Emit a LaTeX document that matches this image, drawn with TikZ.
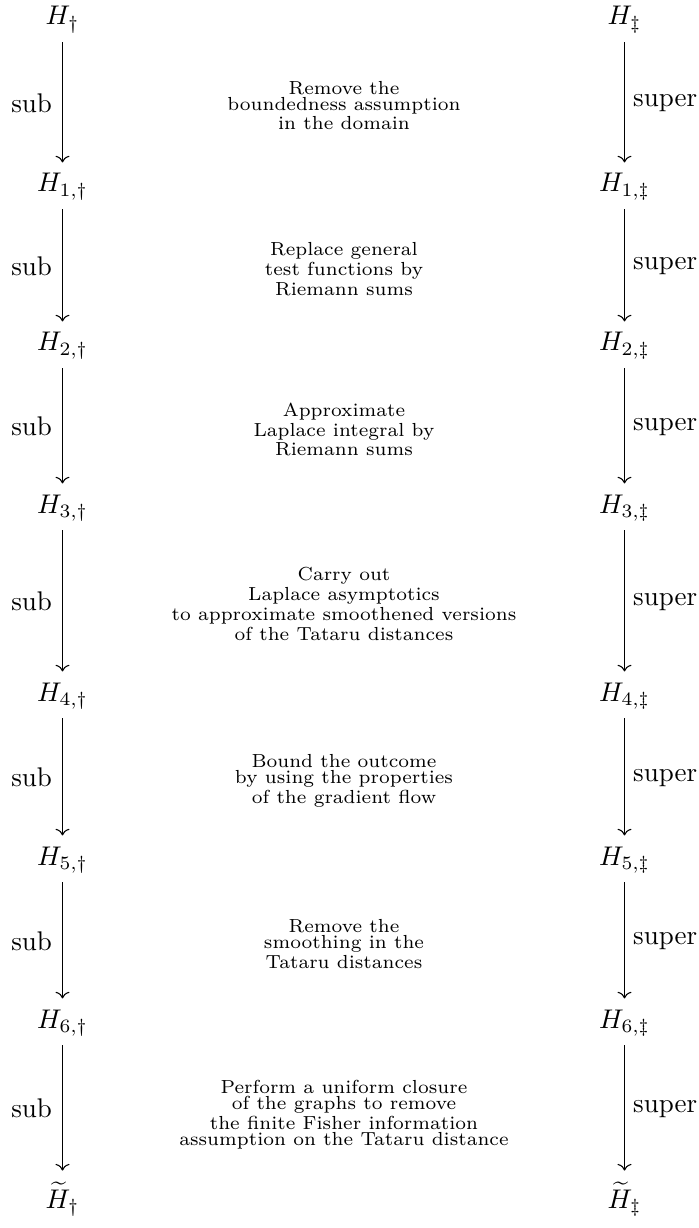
\documentclass[tikz,border=0pt]{standalone}
\usepackage{amsmath}
\usetikzlibrary{arrows.meta}
\begin{document}
\begin{tikzpicture}[x=0.37037pt,y=-0.37037pt,
  obj/.style={anchor=base, inner xsep=2pt, inner ysep=3.4pt},
  desc/.style={inner sep=0pt},
  arr/.style={-{Computer Modern Rightarrow}, thin, shorten >=0.5pt},
  lab/.style={inner sep=0pt}]
\useasboundingbox (0,0) rectangle (698,1228);
% left column
\node[obj] (L0) at (62.5,25)   {$H_{\dagger}$};
\node[obj] (L1) at (62.5,192)  {$H_{1,\dagger}$};
\node[obj] (L2) at (62.5,351)  {$H_{2,\dagger}$};
\node[obj] (L3) at (62.5,513)  {$H_{3,\dagger}$};
\node[obj] (L4) at (62.5,701)  {$H_{4,\dagger}$};
\node[obj] (L5) at (62.5,865)  {$H_{5,\dagger}$};
\node[obj] (L6) at (62.5,1028) {$H_{6,\dagger}$};
\node[obj] (L7) at (62.5,1208) {$\widetilde{H}_{\dagger}$};
% right column
\node[obj] (R0) at (624.5,25)   {$H_{\ddagger}$};
\node[obj] (R1) at (624.5,192)  {$H_{1,\ddagger}$};
\node[obj] (R2) at (624.5,351)  {$H_{2,\ddagger}$};
\node[obj] (R3) at (624.5,513)  {$H_{3,\ddagger}$};
\node[obj] (R4) at (624.5,701)  {$H_{4,\ddagger}$};
\node[obj] (R5) at (624.5,865)  {$H_{5,\ddagger}$};
\node[obj] (R6) at (624.5,1028) {$H_{6,\ddagger}$};
\node[obj] (R7) at (624.5,1208) {$\widetilde{H}_{\ddagger}$};
% arrows
\foreach \a/\b in {0/1,1/2,2/3,3/4,4/5,5/6,6/7}{
  \draw[arr] (L\a) -- node[lab, left=3.7pt] {sub} (L\b);
  \draw[arr] (R\a) -- node[lab, right=3pt] {super} (R\b);
}
% descriptions
\node[desc] (T1) at (344,105.5) {$\substack{\text{Remove the}\\ \text{boundedness assumption}\\ \text{in the domain}}$};
\node[desc] (T2) at (344,269) {$\substack{\text{Replace general}\\ \text{test functions by}\\ \text{Riemann sums}}$};
\node[desc] (T3) at (344,429.5) {$\substack{\text{Approximate}\\ \text{Laplace integral by}\\ \text{Riemann sums}}$};
\node[desc] (T4) at (344,604) {$\substack{\text{Carry out}\\ \text{Laplace asymptotics}\\ \text{to approximate smoothened versions}\\ \text{of the Tataru distances}}$};
\node[desc] (T5) at (344,781) {$\substack{\text{Bound the outcome}\\ \text{by using the properties}\\ \text{of the gradient flow}}$};
\node[desc] (T6) at (344,944) {$\substack{\text{Remove the}\\ \text{smoothing in the}\\ \text{Tataru distances}}$};
\node[desc] (T7) at (344,1115) {$\substack{\text{Perform a uniform closure}\\ \text{of the graphs to remove}\\ \text{the finite Fisher information}\\ \text{assumption on the Tataru distance}}$};
\end{tikzpicture}
\end{document}
